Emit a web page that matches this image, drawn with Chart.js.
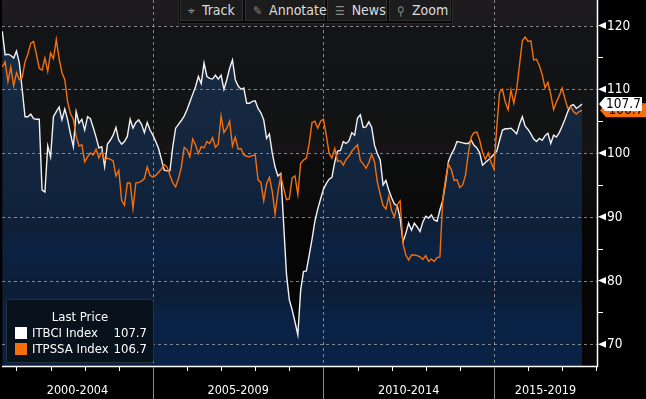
<!DOCTYPE html>
<html>
<head>
<meta charset="utf-8">
<script src="https://cdn.jsdelivr.net/npm/chart.js@4.4.0/dist/chart.umd.min.js"></script>
<style>
html, body { margin: 0; padding: 0; background: #000; }
#wrap { position: relative; width: 646px; height: 399px; overflow: hidden;
  font-family: "DejaVu Sans Condensed", "DejaVu Sans", sans-serif; }
#chart { position: absolute; left: 0; top: 0; }
.toolbar { position: absolute; left: 178px; top: 0; height: 22px; display: flex;
  background: #080808; border: 1px solid #2a2a2a; border-top: none; padding: 0 1px 1px 1px; }
.btn { height: 21px; line-height: 21px; color: #dcdcdc; font-size: 14px; box-sizing: border-box;
  background: #1c1c1c; border: 1px solid #303030; border-top: none; margin-right: 2px;
  padding-left: 7px; white-space: nowrap; }
.btn .ic { color: #8a8a8a; margin-right: 7px; font-size: 12px; }
.legend { position: absolute; left: 6px; top: 299px; width: 146px; height: 62px;
  background: #07121d; border: 1px solid #26313c; border-radius: 3px; color: #fff; font-size: 13px; }
.legend .lt { position: absolute; top: 9px; left: 0; width: 100%; text-align: center; }
.legend .row { position: absolute; left: 8px; width: 132px; height: 14px; line-height: 14px; }
.legend .sw { position: absolute; left: 0; top: 1px; width: 12px; height: 12px; }
.legend .nm { position: absolute; left: 17px; }
.legend .val { position: absolute; right: 0; }
</style>
</head>
<body>
<div id="wrap">
  <canvas id="chart" width="646" height="399"></canvas>
  <div class="toolbar">
    <div class="btn" style="width:63px"><span class="ic">⌖</span>Track</div>
    <div class="btn" style="width:80px"><span class="ic">✎</span>Annotate</div>
    <div class="btn" style="width:60px"><span class="ic">☰</span>News</div>
    <div class="btn" style="width:62px;margin-right:0"><span class="ic">⚲</span>Zoom</div>
  </div>
  <div class="legend" id="legend"></div>
</div>
<script>
// monthly series, first point Aug 2000, last point Aug 2017
var startYear = 2000;
var startMonth = 8;
var seriesNames = ['ITBCI Index', 'ITPSSA Index'];
var seriesColors = ['#ffffff', '#f56f0c'];

var itbci = [
  119.1, 115.4, 115.5, 115.3, 114.9, 116.0, 114.1, 110.0, 105.7, 105.7,
  106.1, 105.4, 105.3, 105.3, 94.2, 93.9, 101.1, 99.4, 105.7, 106.5,
  107.2, 105.2, 106.9, 105.2, 103.0, 101.0, 106.5, 104.7, 105.3, 103.6,
  105.7, 105.4, 104.0, 102.5, 100.8, 101.0, 97.9, 101.4, 102.0, 102.8,
  104.0, 102.0, 101.4, 101.8, 102.6, 105.3, 103.9, 104.8, 105.2, 104.5,
  103.2, 104.8, 103.6, 102.8, 101.8, 100.7, 99.0, 97.3, 97.2, 97.2,
  101.0, 103.9, 104.5, 105.1, 105.8, 106.8, 108.0, 109.2, 110.4, 112.0,
  110.9, 114.1, 112.0, 111.7, 111.6, 112.2, 111.6, 112.2, 110.0, 111.5,
  113.3, 114.6, 111.5, 110.5, 110.0, 110.2, 107.8, 107.8, 108.1, 108.2,
  107.0, 106.3, 105.2, 102.3, 103.0, 100.0, 97.8, 96.4, 96.8, 89.0,
  81.0, 77.0, 75.4, 73.5, 71.5, 78.5, 81.4, 81.5, 84.0, 86.5,
  89.3, 91.2, 92.8, 94.3, 95.2, 95.9, 96.2, 98.6, 100.3, 100.4,
  101.8, 101.5, 101.9, 103.2, 102.8, 105.5, 106.0, 104.0, 104.1, 104.9,
  104.0, 101.2, 99.9, 98.9, 95.0, 95.7, 94.2, 93.0, 92.0, 91.7,
  89.8, 86.1, 87.4, 89.0, 87.9, 89.0, 88.4, 87.7, 89.2, 90.1,
  89.8, 90.3, 89.5, 89.3, 91.1, 92.6, 95.4, 98.7, 99.8, 100.6,
  101.8, 101.7, 101.6, 101.5, 101.5, 102.0, 101.2, 100.8, 100.0, 98.1,
  98.5, 98.9, 99.3, 99.8, 100.3, 102.0, 103.6, 103.8, 103.8, 103.9,
  103.5, 103.0, 104.5, 105.7, 104.2, 103.7, 103.0, 102.2, 101.8, 102.3,
  102.0, 102.7, 103.1, 101.5, 102.8, 102.5, 103.2, 104.2, 105.3, 106.5,
  107.4, 107.6, 107.0, 107.3, 107.7
];

var itpssa = [
  113.5, 114.3, 111.2, 113.5, 110.5, 112.6, 111.5, 111.8, 114.3, 115.5,
  117.2, 117.5, 115.5, 113.3, 113.0, 114.9, 112.8, 115.7, 114.8, 117.8,
  114.8, 112.6, 111.5, 108.0, 106.2, 105.3, 102.6, 101.1, 101.3, 98.6,
  99.4, 100.0, 99.7, 100.6, 99.2, 100.2, 98.9, 99.2, 99.0, 98.8,
  96.4, 97.3, 92.6, 91.8, 95.3, 95.3, 91.3, 95.3, 95.4, 95.6,
  96.0, 97.8, 96.5, 96.2, 96.5, 97.0, 97.5, 98.2, 97.8, 96.5,
  95.3, 94.7, 96.0, 97.8, 100.9, 100.5, 99.4, 102.2, 101.3, 99.9,
  101.0, 100.8, 101.8, 101.5, 102.4, 100.9, 101.4, 105.8, 103.2, 103.9,
  105.0, 101.1, 102.5, 100.6, 100.7, 99.7, 99.5, 99.4, 99.6, 99.7,
  95.8, 95.4, 92.5, 95.2, 96.2, 94.0, 90.4, 93.9, 96.4, 94.5,
  92.7, 92.8, 96.1, 96.4, 93.5, 98.4, 98.9, 99.2, 101.5, 104.8,
  105.0, 103.9, 105.0, 105.3, 102.8, 100.0, 99.2, 100.7, 98.7, 98.8,
  98.1, 99.0, 99.5, 100.3, 100.8, 101.3, 98.8, 98.3, 97.6, 98.5,
  99.8, 98.6, 95.4, 93.5, 91.8, 91.2, 93.2, 91.0, 90.0, 91.9,
  92.5, 85.8, 84.0, 83.2, 84.0, 84.0, 83.9, 83.7, 83.3, 83.9,
  83.0, 83.4, 83.0, 83.6, 83.7, 92.8, 96.0, 98.3, 97.4, 95.7,
  95.8, 94.6, 95.0, 96.5, 100.0, 102.5, 103.2, 103.3, 102.0, 100.1,
  99.0, 100.0, 98.5, 97.5, 104.0, 109.5, 110.0, 108.0, 106.8, 109.9,
  107.8, 110.0, 113.8, 117.6, 118.2, 117.5, 117.6, 114.6, 114.7, 113.7,
  112.3, 110.2, 111.1, 109.2, 106.8, 108.0, 109.0, 110.2, 108.5, 107.0,
  107.3, 106.5, 106.1, 106.5, 106.7
];

var yMajorTicks = [70, 80, 90, 100, 110, 120];
var yMinorTicks = [75, 85, 95, 105, 115];
var yearTicks = [2001, 2002, 2003, 2004, 2005, 2006, 2007, 2008, 2009,
  2010, 2011, 2012, 2013, 2014, 2015, 2016, 2017, 2018];
var periodLabels = ['2000-2004', '2005-2009', '2010-2014', '2015-2019'];
var periodStarts = [2000, 2005, 2010, 2015];

function toPoints(values) {
  return values.map(function (v, i) {
    return { x: startYear + (startMonth - 1 + i) / 12, y: v };
  });
}

function fillGradient(context) {
  var chart = context.chart;
  var area = chart.chartArea;
  if (!area) return '#0d2240';
  var g = chart.ctx.createLinearGradient(0, area.top, 0, area.bottom);
  g.addColorStop(0, '#1b2d46');
  g.addColorStop(0.3, '#15283f');
  g.addColorStop(0.55, '#10233c');
  g.addColorStop(0.62, '#0f1f36');
  g.addColorStop(0.68, '#0b2244');
  g.addColorStop(0.8, '#0d1d35');
  g.addColorStop(0.86, '#0a2245');
  g.addColorStop(1, '#0a2246');
  return g;
}

var uiFont = '"DejaVu Sans Condensed", "DejaVu Sans", sans-serif';

var bloombergLook = {
  id: 'bloombergLook',
  beforeDraw: function (chart) {
    var c = chart.ctx, a = chart.chartArea;
    c.save();
    c.fillStyle = '#000';
    c.fillRect(0, 0, chart.width, chart.height);
    var g = c.createLinearGradient(0, a.top, 0, a.bottom);
    g.addColorStop(0, '#1f1c20');
    g.addColorStop(0.068, '#1c191d');
    g.addColorStop(0.075, '#121417');
    g.addColorStop(0.38, '#131313');
    g.addColorStop(0.405, '#1a1418');
    g.addColorStop(0.44, '#0b0c0d');
    g.addColorStop(0.58, '#0b0b0b');
    g.addColorStop(0.6, '#060606');
    g.addColorStop(1, '#070507');
    c.fillStyle = g;
    c.fillRect(a.left, a.top, a.right - a.left, a.bottom - a.top);
    c.restore();
  },
  beforeDatasetsDraw: function (chart) {
    var c = chart.ctx, a = chart.chartArea;
    var xs = chart.scales.x, ys = chart.scales.y;
    c.save();
    c.strokeStyle = 'rgba(170,170,170,0.75)';
    c.lineWidth = 1;
    c.setLineDash([3, 3]);
    yMajorTicks.forEach(function (t) {
      var y = Math.round(ys.getPixelForValue(t)) + 0.5;
      c.beginPath(); c.moveTo(a.left, y); c.lineTo(a.right, y); c.stroke();
    });
    periodStarts.forEach(function (p) {
      var x = Math.round(xs.getPixelForValue(p)) + 0.5;
      if (x < a.left || x > a.right) return;
      c.beginPath(); c.moveTo(x, a.top); c.lineTo(x, a.bottom); c.stroke();
    });
    c.restore();
  },
  afterDraw: function (chart) {
    var c = chart.ctx, a = chart.chartArea;
    var xs = chart.scales.x, ys = chart.scales.y;
    c.save();
    // axis lines
    c.strokeStyle = '#ffffff';
    c.lineWidth = 1.5;
    c.beginPath();
    c.moveTo(a.left, a.bottom + 0.5); c.lineTo(a.right + 0.5, a.bottom + 0.5);
    c.lineTo(a.right + 0.5, a.top);
    c.stroke();
    c.lineWidth = 1;
    // year ticks
    yearTicks.forEach(function (yr) {
      var x = Math.round(xs.getPixelForValue(yr)) + 0.5;
      c.beginPath(); c.moveTo(x, a.bottom); c.lineTo(x, a.bottom + 5); c.stroke();
    });
    // period separators and labels
    c.strokeStyle = '#8a8a8a';
    periodStarts.forEach(function (p) {
      var x = Math.round(xs.getPixelForValue(p)) + 0.5;
      if (x < a.left) return;
      c.beginPath(); c.moveTo(x, a.bottom + 1); c.lineTo(x, chart.height); c.stroke();
    });
    c.fillStyle = '#ffffff';
    c.font = '12.5px ' + uiFont;
    c.textAlign = 'center';
    c.textBaseline = 'middle';
    periodLabels.forEach(function (lbl, i) {
      var x0 = Math.max(xs.getPixelForValue(periodStarts[i]), a.left);
      var x1 = Math.min(xs.getPixelForValue(periodStarts[i] + 5), a.right);
      c.fillText(lbl, (x0 + x1) / 2, 391);
    });
    // right axis ticks and labels
    c.strokeStyle = '#ffffff';
    yMinorTicks.forEach(function (t) {
      var y = Math.round(ys.getPixelForValue(t)) + 0.5;
      c.beginPath(); c.moveTo(a.right, y); c.lineTo(a.right + 6, y); c.stroke();
    });
    c.font = '13.5px ' + uiFont;
    c.textAlign = 'left';
    yMajorTicks.forEach(function (t) {
      var y = ys.getPixelForValue(t);
      c.beginPath();
      c.moveTo(a.right + 1, y);
      c.lineTo(a.right + 9, y - 3.5);
      c.lineTo(a.right + 9, y + 3.5);
      c.closePath();
      c.fill();
      c.fillText(String(t), a.right + 10, y + 0.5);
    });
    // last value tags (orange under white)
    var lastO = itpssa[itpssa.length - 1];
    var lastW = itbci[itbci.length - 1];
    function tag(val, fill, txt, x0, x1) {
      var y = ys.getPixelForValue(val);
      c.fillStyle = fill;
      c.beginPath();
      c.moveTo(x0, y);
      c.lineTo(x0 + 6, y - 7);
      c.lineTo(x1, y - 7);
      c.lineTo(x1, y + 7);
      c.lineTo(x0 + 6, y + 7);
      c.closePath();
      c.fill();
      c.fillStyle = txt;
      c.textAlign = 'center';
      c.fillText(val.toFixed(1), (x0 + 6 + x1) / 2, y + 0.5);
    }
    tag(lastO, seriesColors[1], '#1a0a00', a.right + 3, chart.width);
    tag(lastW, '#ffffff', '#000000', a.right + 2, a.right + 45);
    c.restore();
  }
};

var ctx = document.getElementById('chart').getContext('2d');
var chart = new Chart(ctx, {
  type: 'line',
  data: {
    datasets: [
      {
        label: seriesNames[1],
        data: toPoints(itpssa),
        borderColor: seriesColors[1],
        borderWidth: 1.4,
        pointRadius: 0,
        tension: 0,
        fill: false
      },
      {
        label: seriesNames[0],
        data: toPoints(itbci),
        borderColor: '#f2f2f2',
        borderWidth: 1.4,
        pointRadius: 0,
        tension: 0,
        fill: 'start',
        backgroundColor: fillGradient
      }
    ]
  },
  options: {
    responsive: false,
    animation: false,
    events: [],
    layout: { padding: { left: 2, right: 49, top: 0, bottom: 33 } },
    scales: {
      x: { type: 'linear', min: 2000.575, max: 2018.023, display: false },
      y: { min: 66.6, max: 124.0, display: false }
    },
    plugins: {
      legend: { display: false },
      tooltip: { enabled: false },
      filler: { drawTime: 'beforeDatasetsDraw' }
    }
  },
  plugins: [bloombergLook]
});

// legend box built from the series
var lg = document.getElementById('legend');
var html = '<div class="lt">Last Price</div>';
[itbci, itpssa].forEach(function (arr, i) {
  html += '<div class="row" style="top:' + (26 + i * 16) + 'px">' +
    '<span class="sw" style="background:' + seriesColors[i] + '"></span>' +
    '<span class="nm">' + seriesNames[i] + '</span>' +
    '<span class="val">' + arr[arr.length - 1].toFixed(1) + '</span></div>';
});
lg.innerHTML = html;
</script>
</body>
</html>
